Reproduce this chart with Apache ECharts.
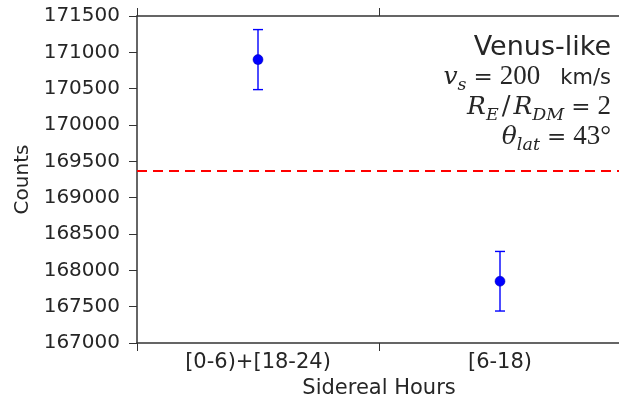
<!DOCTYPE html>
<html>
<head>
<meta charset="utf-8">
<script src="https://cdn.jsdelivr.net/npm/echarts@6/dist/echarts.min.js"></script>
<style>
  html, body { margin: 0; padding: 0; background: #fff; }
  #chart { width: 619px; height: 397px; }
</style>
</head>
<body>
<div id="chart"></div>
<script>
// Sidereal-hour bins and the event counts in each, with Poisson (sqrt N) errors
const categories = ['[0-6)+[18-24)', '[6-18)'];
const counts = [170900, 167850];
const countErrors = [413, 410];
// Mean count level over the full day
const meanLevel = 169375;
// Y axis range and step
const yMin = 167000;
const yMax = 171500;
const yStep = 500;

const SANS = '"DejaVu Sans", Verdana, sans-serif';
const SERIF = '"Liberation Serif", "DejaVu Serif", serif';
const WSERIF = '"DejaVu Serif", "Liberation Serif", serif';
const AXIS_COLOR = '#333333';
const TEXT_COLOR = '#262626';
const BLUE = '#0000ff';

const chart = echarts.init(document.getElementById('chart'), null, { renderer: 'canvas' });

// Rich-text token placed by baseline: top padding pushes each fragment down
// so that it sits on the shared (or subscript) baseline.
function tok(font, size, style, baseline, padL, padR) {
  const k = font === SERIF ? 0.305 : 0.297;
  return {
    fontFamily: font,
    fontSize: size,
    fontStyle: style,
    lineHeight: size,
    verticalAlign: 'top',
    padding: [Math.max(0, baseline - size / 2 - k * size), padR || 0, 0, padL || 0],
    color: TEXT_COLOR
  };
}
const BASE = 24;
const mathRich = {
  it: tok(WSERIF, 25, 'italic', BASE),
  sub: tok(WSERIF, 17.5, 'italic', BASE + 5),
  rm: tok(SERIF, 27, 'normal', BASE),
  eq: tok(WSERIF, 23, 'normal', BASE, 7, 7),
  sl: tok(WSERIF, 26, 'normal', BASE, 3, 3),
  sf: tok(SANS, 21, 'normal', BASE, 20, 0)
};

function infoLine(text, baseline) {
  return {
    type: 'text',
    right: 8,
    top: baseline - BASE,
    style: { text: text, rich: mathRich, align: 'right', fill: TEXT_COLOR }
  };
}

const option = {
  animation: false,
  backgroundColor: '#ffffff',
  grid: { left: 137, top: 16, width: 484, height: 327, containLabel: false, outerBoundsMode: 'none' },
  xAxis: [
    {
      type: 'category',
      data: categories,
      position: 'bottom',
      boundaryGap: true,
      axisLine: { show: true, lineStyle: { color: AXIS_COLOR, width: 1.5 } },
      axisTick: { show: true, inside: false, length: 8, alignWithLabel: false,
                  lineStyle: { color: AXIS_COLOR, width: 1 } },
      axisLabel: { show: true, margin: 9, fontFamily: SANS, fontSize: 21, color: TEXT_COLOR },
      splitLine: { show: false },
      name: 'Sidereal Hours',
      nameLocation: 'middle',
      nameGap: 33,
      nameTextStyle: { fontFamily: SANS, fontSize: 21, color: TEXT_COLOR }
    },
    {
      type: 'category',
      data: categories,
      position: 'top',
      boundaryGap: true,
      axisLine: { show: true, lineStyle: { color: AXIS_COLOR, width: 1.5 } },
      axisTick: { show: true, inside: false, length: 8, alignWithLabel: false,
                  lineStyle: { color: AXIS_COLOR, width: 1 } },
      axisLabel: { show: false },
      splitLine: { show: false }
    }
  ],
  yAxis: [
    {
      type: 'value',
      min: yMin,
      max: yMax,
      interval: yStep,
      position: 'left',
      axisLine: { show: true, lineStyle: { color: AXIS_COLOR, width: 1.5 } },
      axisTick: { show: true, inside: false, length: 8, lineStyle: { color: AXIS_COLOR, width: 1 } },
      axisLabel: { show: true, margin: 17, fontFamily: SANS, fontSize: 20, color: TEXT_COLOR,
                   formatter: v => String(v) },
      splitLine: { show: false },
      name: 'Counts',
      nameLocation: 'middle',
      nameGap: 100,
      nameTextStyle: { fontFamily: SANS, fontSize: 20, color: TEXT_COLOR }
    },
    {
      type: 'value',
      min: yMin,
      max: yMax,
      interval: yStep,
      position: 'right',
      axisLine: { show: true, lineStyle: { color: AXIS_COLOR, width: 1.5 } },
      axisTick: { show: true, inside: false, length: 8, lineStyle: { color: AXIS_COLOR, width: 1 } },
      axisLabel: { show: false },
      splitLine: { show: false }
    }
  ],
  series: [
    {
      // vertical error bars with caps
      type: 'custom',
      xAxisIndex: 0,
      yAxisIndex: 0,
      silent: true,
      data: counts.map((c, i) => [i, c - countErrors[i], c + countErrors[i]]),
      renderItem: function (params, api) {
        const lo = api.coord([api.value(0), api.value(1)]);
        const hi = api.coord([api.value(0), api.value(2)]);
        const cap = 5;
        const st = { stroke: BLUE, lineWidth: 1.4 };
        return {
          type: 'group',
          children: [
            { type: 'line', shape: { x1: lo[0], y1: lo[1], x2: hi[0], y2: hi[1] }, style: st },
            { type: 'line', shape: { x1: lo[0] - cap, y1: lo[1], x2: lo[0] + cap, y2: lo[1] }, style: st },
            { type: 'line', shape: { x1: hi[0] - cap, y1: hi[1], x2: hi[0] + cap, y2: hi[1] }, style: st }
          ]
        };
      },
      z: 2
    },
    {
      type: 'scatter',
      xAxisIndex: 0,
      yAxisIndex: 0,
      data: counts.map((c, i) => [i, c]),
      symbol: 'circle',
      symbolSize: 10,
      itemStyle: { color: BLUE, opacity: 1, borderColor: '#0000aa', borderWidth: 0.5 },
      z: 3,
      markLine: {
        silent: true,
        symbol: 'none',
        label: { show: false },
        lineStyle: { color: '#ff0000', width: 2, type: [10, 6], opacity: 1 },
        data: [{ yAxis: meanLevel }]
      }
    }
  ],
  graphic: [
    {
      type: 'text',
      right: 8,
      top: 34,
      style: { text: 'Venus-like', font: '27px ' + SANS, fill: TEXT_COLOR, align: 'right' }
    },
    infoLine('{it|v}{sub|s}{eq|=}{rm|200}{sf|km/s}', 85),
    infoLine('{it|R}{sub|E}{sl|/}{it|R}{sub|DM}{eq|=}{rm|2}', 115),
    infoLine('{it|θ}{sub|lat}{eq|=}{rm|43°}', 145)
  ]
};

chart.setOption(option);
</script>
</body>
</html>
